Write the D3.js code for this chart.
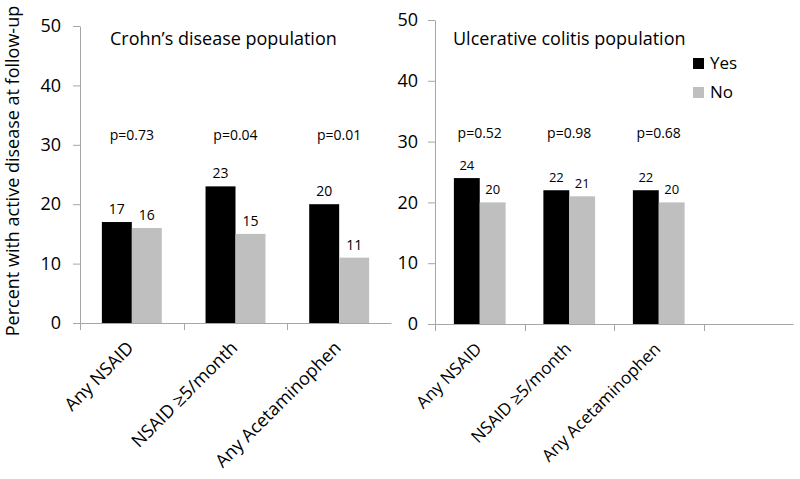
<!DOCTYPE html>
<html>
<head>
<meta charset="utf-8">
<script src="https://cdn.jsdelivr.net/npm/d3@7"></script>
<style>
  body { margin: 0; background: #fff; }
  svg { font-family: "Open Sans", sans-serif; }
</style>
</head>
<body>
<script>
// data
const categories = ["Any NSAID", "NSAID \u22655/month", "Any Acetaminophen"]
const series = ["Yes", "No"]
const crohnYes = [17, 23, 20]
const crohnNo = [16, 15, 11]
const ucYes = [24, 22, 22]
const ucNo = [20, 21, 20]
const crohnP = ["p=0.73", "p=0.04", "p=0.01"]
const ucP = ["p=0.52", "p=0.98", "p=0.68"]
const yTicks = [0, 10, 20, 30, 40, 50]

let width = 800
let height = 479
let colors = { Yes: "#000000", No: "#bfbfbf" }
let axisColor = "#a6a6a6"

const svg = d3.select("body")
  .append("svg")
  .attr("width", width)
  .attr("height", height)

function drawPanel(p) {
  const y = d3.scaleLinear().domain([0, 50]).range([p.bottom, p.top])
  const x0 = d3.scaleBand().domain(p.cats).range([p.left, p.right])
  const x1 = d3.scaleBand().domain(series).range([0, x0.bandwidth()]).paddingOuter(0.73)

  // y axis
  const ya = svg.append("g")
    .attr("transform", `translate(${p.left},0)`)
    .call(d3.axisLeft(y).tickValues(yTicks).tickSize(7).tickSizeOuter(0).tickPadding(p.tickPad))
  ya.selectAll("path, line").attr("stroke", axisColor)
  ya.selectAll("text").attr("font-size", p.tickFont).attr("fill", "#000")
    .attr("font-family", "Open Sans")

  // x axis line + ticks at category boundaries
  const xa = svg.append("g")
    .attr("transform", `translate(0,${p.bottom})`)
    .call(d3.axisBottom(x0).tickSize(0).tickSizeOuter(0).tickFormat(""))
  xa.select("path").attr("stroke", axisColor)
  svg.append("g").selectAll("line")
    .data(p.cats)
    .join("line")
    .attr("x1", d => Math.round(x0(d)) + 0.5)
    .attr("x2", d => Math.round(x0(d)) + 0.5)
    .attr("y1", p.bottom)
    .attr("y2", p.bottom + 7)
    .attr("stroke", axisColor)

  // category labels
  svg.append("g").selectAll("text")
    .data(categories)
    .join("text")
    .attr("transform", d => `translate(${x0(d) + x0.bandwidth() / 2 + 3},${p.bottom + 26}) rotate(-45)`)
    .attr("text-anchor", "end")
    .attr("font-size", p.catFont)
    .text(d => d)

  // bars
  const rows = categories.map((c, i) => ({ cat: c, Yes: p.yes[i], No: p.no[i] }))
  const groups = svg.append("g").selectAll("g")
    .data(rows)
    .join("g")
    .attr("transform", d => `translate(${x0(d.cat)},0)`)
  groups.selectAll("rect")
    .data(d => series.map(s => ({ s: s, v: d[s] })))
    .join("rect")
    .attr("x", d => x1(d.s))
    .attr("width", x1.bandwidth())
    .attr("y", d => y(d.v))
    .attr("height", d => y(0) - y(d.v))
    .attr("fill", d => colors[d.s])

  // value labels
  groups.selectAll("text")
    .data(d => series.map(s => ({ s: s, v: d[s] })))
    .join("text")
    .attr("x", d => x1(d.s) + x1.bandwidth() / 2)
    .attr("y", d => y(d.v) - 8)
    .attr("text-anchor", "middle")
    .attr("font-size", p.valFont)
    .text(d => d.v)

  // p values
  svg.append("g").selectAll("text")
    .data(categories)
    .join("text")
    .attr("x", d => x0(d) + x0.bandwidth() / 2)
    .attr("y", p.pY)
    .attr("text-anchor", "middle")
    .attr("font-size", 14)
    .text((d, i) => p.pvals[i])

  // panel title
  svg.append("text")
    .attr("x", p.titleX)
    .attr("y", 45)
    .attr("font-size", 18)
    .text(p.title)
}

drawPanel({
  left: 80, right: 391, top: 26, bottom: 323,
  cats: categories, yes: crohnYes, no: crohnNo, pvals: crohnP,
  title: "Crohn\u2019s disease population", titleX: 110,
  tickFont: 18, tickPad: 12, catFont: 18, valFont: 14, pY: 140
})

drawPanel({
  left: 435, right: 793, top: 20, bottom: 324,
  cats: categories.concat([""]), yes: ucYes, no: ucNo, pvals: ucP,
  title: "Ulcerative colitis population", titleX: 453,
  tickFont: 18, tickPad: 10, catFont: 17, valFont: 13, pY: 138
})

// y axis title
svg.append("text")
  .attr("transform", "translate(19,171) rotate(-90)")
  .attr("text-anchor", "middle")
  .attr("font-size", 18)
  .text("Percent with active disease at follow-up")

// legend
const legend = svg.append("g").selectAll("g")
  .data(series)
  .join("g")
  .attr("transform", (d, i) => `translate(693,${58 + i * 29})`)
legend.append("rect")
  .attr("width", 11)
  .attr("height", 11)
  .attr("fill", d => colors[d])
legend.append("text")
  .attr("x", 17)
  .attr("y", 11)
  .attr("font-size", 17)
  .text(d => d)
</script>
</body>
</html>
